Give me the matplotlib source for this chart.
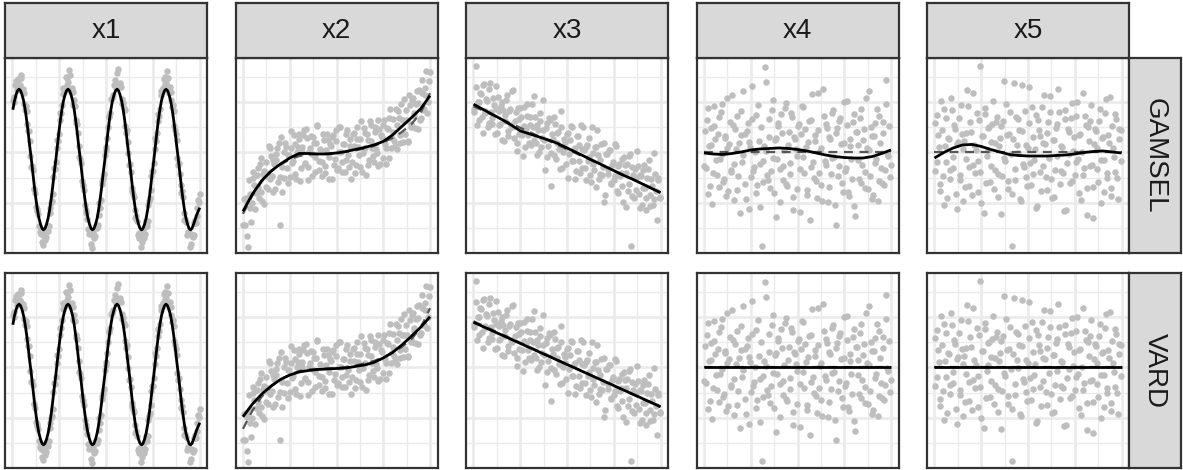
import matplotlib
matplotlib.use("Agg")
import matplotlib.pyplot as plt

# ---------------------------------------------------------------- data
variables = ["x1", "x2", "x3", "x4", "x5"]
methods = ["GAMSEL", "VARD"]

# x1: sine-like component (scatter + fitted curve)
x1_pos = [
    0.002, 0.010, 0.019, 0.027, 0.035, 0.043, 0.051, 0.060, 0.068, 0.076,
    0.084, 0.092, 0.101, 0.109, 0.117, 0.125, 0.133, 0.141, 0.150, 0.158,
    0.166, 0.174, 0.182, 0.191, 0.199, 0.207, 0.215, 0.223, 0.232, 0.240,
    0.248, 0.256, 0.264, 0.272, 0.281, 0.289, 0.297, 0.305, 0.313, 0.322,
    0.330, 0.338, 0.346, 0.354, 0.363, 0.371, 0.379, 0.387, 0.395, 0.403,
    0.412, 0.420, 0.428, 0.436, 0.444, 0.453, 0.461, 0.469, 0.477, 0.485,
    0.494, 0.502, 0.510, 0.518, 0.526, 0.534, 0.543, 0.551, 0.559, 0.567,
    0.575, 0.584, 0.592, 0.600, 0.608, 0.616, 0.625, 0.633, 0.641, 0.649,
    0.657, 0.665, 0.674, 0.682, 0.690, 0.698, 0.706, 0.715, 0.723, 0.731,
    0.739, 0.747, 0.756, 0.764, 0.772, 0.780, 0.788, 0.796, 0.805, 0.813,
    0.821, 0.829, 0.837, 0.846, 0.854, 0.862, 0.870, 0.878, 0.887, 0.895,
    0.903, 0.911, 0.919, 0.927, 0.936, 0.944, 0.952, 0.960, 0.968, 0.977,
    0.985, 0.993, 1.001]
x1_fit = [
    0.85, 1.02, 1.15, 1.23, 1.26, 1.23, 1.15, 1.02, 0.85, 0.64,
    0.40, 0.13, -0.14, -0.41, -0.68, -0.92, -1.13, -1.30, -1.43, -1.51,
    -1.54, -1.51, -1.43, -1.30, -1.13, -0.92, -0.68, -0.41, -0.14, 0.13,
    0.40, 0.64, 0.85, 1.02, 1.15, 1.23, 1.26, 1.23, 1.15, 1.02,
    0.85, 0.64, 0.40, 0.13, -0.14, -0.41, -0.68, -0.92, -1.13, -1.30,
    -1.43, -1.51, -1.54, -1.51, -1.43, -1.30, -1.13, -0.92, -0.68, -0.41,
    -0.14, 0.13, 0.40, 0.64, 0.85, 1.02, 1.15, 1.23, 1.26, 1.23,
    1.15, 1.02, 0.85, 0.64, 0.40, 0.13, -0.14, -0.41, -0.68, -0.92,
    -1.13, -1.30, -1.43, -1.51, -1.54, -1.51, -1.43, -1.30, -1.13, -0.92,
    -0.68, -0.41, -0.14, 0.13, 0.40, 0.64, 0.85, 1.02, 1.15, 1.23,
    1.26, 1.23, 1.15, 1.02, 0.85, 0.64, 0.40, 0.13, -0.14, -0.41,
    -0.68, -0.92, -1.13, -1.30, -1.43, -1.51, -1.54, -1.51, -1.43, -1.33,
    -1.24, -1.17, -1.10]
x1_pts_a = [
    1.05, 1.11, 1.43, 1.30, 1.46, 1.55, 1.24, 1.18, 0.85, 0.82,
    0.43, 0.23, -0.28, -0.34, -0.73, -1.09, -1.12, -1.46, -1.52, -1.79,
    -1.67, -1.74, -1.49, -1.57, -1.20, -1.01, -0.83, -0.31, -0.18, 0.25,
    0.36, 0.78, 0.95, 1.28, 1.25, 1.49, 1.40, 1.54, 1.20, 1.20,
    1.04, 0.65, 0.56, 0.12, -0.12, -0.57, -0.66, -1.05, -1.14, -1.53,
    -1.56, -1.82, -1.65, -1.70, -1.46, -1.51, -1.24, -1.11, -0.62, -0.51,
    -0.05, 0.04, 0.51, 0.72, 1.07, 1.08, 1.34, 1.28, 1.58, 1.36,
    1.38, 1.07, 0.99, 0.84, 0.39, 0.21, -0.24, -0.39, -0.77, -0.88,
    -1.30, -1.36, -1.70, -1.66, -1.79, -1.58, -1.63, -1.37, -1.37, -0.96,
    -0.75, -0.36, -0.20, 0.29, 0.38, 0.76, 0.87, 1.22, 1.29, 1.51,
    1.38, 1.48, 1.18, 1.20, 0.90, 0.83, 0.44, 0.24, -0.25, -0.42,
    -0.80, -0.89, -1.34, -1.39, -1.62, -1.60, -1.83, -1.64, -1.65, -1.34,
    -1.27, -0.95, -0.83]
x1_pos_b = [
    0.006, 0.014, 0.023, 0.031, 0.039, 0.047, 0.055, 0.064, 0.072, 0.080,
    0.088, 0.096, 0.105, 0.113, 0.121, 0.129, 0.137, 0.145, 0.154, 0.162,
    0.170, 0.178, 0.186, 0.195, 0.203, 0.211, 0.219, 0.227, 0.236, 0.244,
    0.252, 0.260, 0.268, 0.276, 0.285, 0.293, 0.301, 0.309, 0.317, 0.326,
    0.334, 0.342, 0.350, 0.358, 0.367, 0.375, 0.383, 0.391, 0.399, 0.407,
    0.416, 0.424, 0.432, 0.440, 0.448, 0.457, 0.465, 0.473, 0.481, 0.489,
    0.498, 0.506, 0.514, 0.522, 0.530, 0.538, 0.547, 0.555, 0.563, 0.571,
    0.579, 0.588, 0.596, 0.604, 0.612, 0.620, 0.629, 0.637, 0.645, 0.653,
    0.661, 0.669, 0.678, 0.686, 0.694, 0.702, 0.710, 0.719, 0.727, 0.735,
    0.743, 0.751, 0.760, 0.768, 0.776, 0.784, 0.792, 0.800, 0.809, 0.817,
    0.825, 0.833, 0.841, 0.850, 0.858, 0.866, 0.874, 0.882, 0.891, 0.899,
    0.907, 0.915, 0.923, 0.931, 0.940, 0.948, 0.956, 0.964, 0.972, 0.981,
    0.989, 0.997]
x1_pts_b = [
    1.01, 1.34, 1.24, 1.47, 1.34, 1.49, 1.26, 0.97, 0.92, 0.56,
    0.43, -0.07, -0.26, -0.73, -0.80, -1.16, -1.23, -1.59, -1.63, -1.85,
    -1.61, -1.69, -1.46, -1.46, -1.10, -0.96, -0.48, -0.32, 0.09, 0.22,
    0.64, 0.79, 1.17, 1.21, 1.50, 1.35, 1.64, 1.27, 1.29, 0.95,
    0.93, 0.58, 0.38, -0.09, -0.21, -0.64, -0.75, -1.21, -1.33, -1.62,
    -1.57, -1.90, -1.59, -1.67, -1.47, -1.44, -1.01, -0.94, -0.57, -0.42,
    0.10, 0.28, 0.71, 0.78, 1.09, 1.14, 1.45, 1.37, 1.67, 1.34,
    1.30, 0.96, 0.89, 0.52, 0.44, -0.01, -0.23, -0.70, -0.83, -1.14,
    -1.26, -1.64, -1.60, -1.88, -1.60, -1.70, -1.49, -1.46, -1.05, -0.90,
    -0.47, -0.37, 0.07, 0.23, 0.62, 0.73, 1.15, 1.20, 1.47, 1.36,
    1.62, 1.26, 1.31, 1.04, 0.95, 0.52, 0.36, -0.10, -0.21, -0.65,
    -0.77, -1.20, -1.33, -1.65, -1.58, -1.89, -1.62, -1.68, -1.40, -1.40,
    -1.10, -0.98]

# x2..x5 share two sets of observation positions
obs_a = [
    0.004, 0.011, 0.019, 0.030, 0.036, 0.043, 0.055, 0.061, 0.068, 0.079,
    0.085, 0.094, 0.101, 0.110, 0.118, 0.125, 0.137, 0.142, 0.150, 0.161,
    0.167, 0.175, 0.186, 0.192, 0.200, 0.211, 0.218, 0.226, 0.233, 0.245,
    0.251, 0.259, 0.268, 0.276, 0.284, 0.293, 0.300, 0.309, 0.318, 0.325,
    0.334, 0.341, 0.350, 0.358, 0.367, 0.374, 0.383, 0.392, 0.398, 0.409,
    0.416, 0.424, 0.433, 0.440, 0.449, 0.458, 0.466, 0.474, 0.483, 0.490,
    0.499, 0.508, 0.515, 0.525, 0.532, 0.541, 0.549, 0.557, 0.566, 0.574,
    0.582, 0.591, 0.599, 0.607, 0.616, 0.624, 0.633, 0.641, 0.650, 0.657,
    0.666, 0.675, 0.683, 0.691, 0.700, 0.708, 0.717, 0.724, 0.733, 0.742,
    0.750, 0.758, 0.767, 0.775, 0.783, 0.792, 0.800, 0.808, 0.817, 0.825,
    0.834, 0.842, 0.850, 0.859, 0.867, 0.875, 0.884, 0.892, 0.900, 0.909,
    0.917, 0.925, 0.934, 0.942, 0.950, 0.959, 0.967, 0.975, 0.984, 0.995]
obs_b = [
    0.002, 0.015, 0.024, 0.027, 0.040, 0.049, 0.051, 0.064, 0.073, 0.082,
    0.090, 0.097, 0.106, 0.114, 0.121, 0.131, 0.134, 0.146, 0.155, 0.158,
    0.171, 0.179, 0.183, 0.196, 0.205, 0.208, 0.221, 0.230, 0.239, 0.241,
    0.255, 0.263, 0.272, 0.280, 0.288, 0.297, 0.304, 0.313, 0.321, 0.330,
    0.337, 0.346, 0.354, 0.362, 0.371, 0.379, 0.387, 0.395, 0.404, 0.412,
    0.420, 0.428, 0.437, 0.445, 0.453, 0.462, 0.470, 0.478, 0.487, 0.495,
    0.503, 0.512, 0.520, 0.529, 0.537, 0.545, 0.553, 0.562, 0.570, 0.578,
    0.587, 0.595, 0.603, 0.612, 0.620, 0.628, 0.637, 0.645, 0.653, 0.662,
    0.670, 0.679, 0.687, 0.696, 0.704, 0.712, 0.721, 0.729, 0.737, 0.746,
    0.754, 0.762, 0.771, 0.779, 0.788, 0.796, 0.804, 0.813, 0.821, 0.829,
    0.838, 0.846, 0.854, 0.863, 0.871, 0.880, 0.888, 0.896, 0.904, 0.913,
    0.921, 0.930, 0.938, 0.946, 0.955, 0.963, 0.971, 0.980, 0.988, 0.998]

x2_pts_a = [
    -0.93, -1.44, -0.99, -0.55, -1.11, -1.39, -0.51, -0.65, -0.80, -0.30,
    -0.90, -0.11, -0.96, -0.36, -0.47, -0.69, 0.13, -0.53, -0.06, -0.79,
    -0.23, -0.04, -0.58, 0.19, -1.45, -0.78, 0.00, 0.18, -0.31, -0.05,
    -0.48, 0.42, -0.17, 0.17, -0.52, 0.11, 0.37, -0.30, 0.01, 0.44,
    -0.22, 0.28, -0.55, 0.09, -0.03, 0.31, -0.38, 0.19, 0.54, -0.17,
    0.03, -0.46, 0.24, -0.27, 0.37, -0.09, 0.16, -0.52, 0.34, -0.13,
    0.23, -0.30, 0.50, 0.01, -0.38, 0.16, -0.15, 0.45, -0.29, 0.12,
    -0.18, 0.39, -0.40, 0.27, 0.11, -0.28, 0.62, -0.01, 0.38, -0.44,
    0.25, -0.15, 0.54, 0.09, -0.18, 0.41, -0.02, 0.65, -0.22, 0.31,
    0.54, 0.16, -0.22, 0.46, 0.69, 0.08, 0.41, 0.23, 0.86, 0.06,
    0.69, 0.19, 0.64, 1.07, 0.37, 0.64, 0.20, 0.95, 0.57, 1.08,
    0.73, 0.97, 0.46, 1.25, 0.69, 1.19, 0.87, 1.14, 0.79, 1.43]
x2_pts_b = [
    -1.44, -0.90, -1.66, -1.88, -0.82, -1.00, -0.38, -1.12, -0.45, -0.69,
    -0.22, -0.78, -0.43, -1.03, -0.18, -0.40, -0.72, 0.08, -0.46, -0.15,
    -0.72, -0.14, 0.08, -0.48, 0.31, -0.28, -0.51, 0.10, -0.05, -0.61,
    0.08, -0.21, 0.35, -0.42, 0.01, 0.26, -0.57, 0.11, 0.35, -0.21,
    0.46, -0.29, 0.00, 0.32, -0.46, 0.18, -0.09, 0.53, -0.34, 0.07,
    -0.18, 0.37, -0.41, 0.04, 0.24, -0.52, 0.12, 0.30, -0.25, 0.44,
    -0.35, 0.00, 0.51, -0.19, 0.17, -0.39, 0.37, -0.05, 0.27, -0.53,
    0.36, 0.12, -0.24, 0.50, -0.05, 0.27, -0.38, 0.48, 0.08, 0.37,
    -0.24, 0.62, 0.23, -0.07, 0.50, 0.06, -0.27, 0.47, 0.35, -0.11,
    0.64, 0.08, 0.49, -0.10, 0.86, 0.29, 0.66, 0.13, 0.54, 0.82,
    0.34, 0.97, 0.20, 0.64, 0.84, 0.23, 1.15, 0.50, 1.05, 0.79,
    0.48, 1.22, 0.99, 0.65, 1.44, 0.84, 1.29, 1.63, 1.01, 1.60]

x3_pts_a = [
    0.86, 1.30, 0.55, 1.01, 1.19, 0.71, 1.36, 0.82, 1.07, 0.51,
    1.26, 0.81, 0.56, 0.94, 1.33, 0.39, 0.83, 0.57, 1.01, 0.23,
    0.74, 1.05, 0.43, 0.83, 0.54, 1.24, 0.29, 0.81, 0.02, 0.66,
    0.88, 0.34, 0.53, 0.10, 0.96, 0.35, 0.71, 0.14, 0.50, 1.13,
    0.18, 0.55, 0.01, 0.79, 0.29, 0.45, -0.34, 0.59, 0.12, 0.65,
    -0.02, 0.27, 0.71, -0.12, 0.39, 0.07, 0.51, -0.30, 0.27, 0.09,
    0.37, -0.50, 0.25, 0.51, -0.16, 0.08, -0.37, 0.32, -0.17, 0.55,
    -0.31, 0.05, -0.54, 0.14, -0.09, -0.45, 0.50, -0.23, 0.11, -0.68,
    -0.05, -0.43, 0.17, -0.28, -0.98, -0.03, -0.43, 0.04, -0.62, -0.24,
    -0.54, 0.16, -0.77, -0.27, -0.47, -0.12, -0.98, -0.24, -0.40, -0.76,
    -0.07, -1.86, -0.29, -0.90, -0.51, 0.03, -0.82, -0.45, -1.05, -0.35,
    -0.71, -1.15, -0.32, -0.85, -0.52, -1.05, -0.02, -0.77, -0.51, -0.91]
x3_pts_b = [
    0.81, 1.72, 1.01, 0.64, 1.16, 0.38, 1.34, 0.79, 1.02, 0.58,
    1.39, 0.68, 1.09, 0.37, 0.86, 1.10, 0.54, 0.93, 0.24, 0.84,
    0.63, 1.14, 0.33, 0.86, 1.22, 0.50, 0.63, 0.19, 0.89, 0.37,
    0.71, -0.07, 0.90, 0.46, 0.72, 0.18, 0.55, 0.96, 0.25, 0.71,
    -0.05, 0.44, 0.63, 0.11, 1.04, 0.24, 0.48, -0.08, 0.68, -0.67,
    0.37, -0.05, 0.56, 0.19, 0.40, -0.32, 0.83, 0.00, 0.20, -0.22,
    0.38, -0.03, 0.52, -0.16, 0.07, -0.53, 0.33, 0.15, -0.41, 0.06,
    0.51, -0.31, 0.11, -0.16, 0.28, -0.58, -0.02, -0.34, 0.11, 0.44,
    -0.53, -0.15, -0.44, 0.18, -0.84, -0.04, -0.32, 0.04, -0.61, -0.19,
    -0.46, 0.13, -0.80, -0.22, -0.41, -0.66, -0.09, -1.09, -0.22, -0.62,
    -0.04, -0.87, -0.45, -0.33, -0.74, -0.27, -1.10, -0.47, -0.71, -0.24,
    -0.91, -0.50, -0.14, -1.06, -0.67, -0.92, -0.42, -1.35, -0.55, -0.89]

x4_pts_a = [
    0.42, -0.31, 0.88, -0.67, 0.15, -1.02, 0.53, 0.27, -0.45, 0.71,
    -0.12, 0.96, -0.58, 0.33, -0.86, 0.08, 0.61, -0.39, 1.14, -0.22,
    0.47, -0.74, 0.19, -1.21, 0.82, -0.05, 0.36, -0.93, 0.58, 0.11,
    -0.49, 1.32, -0.28, 0.74, -0.64, 0.23, -1.08, -1.87, -0.17, 1.71,
    0.02, -0.55, 0.67, -0.36, 1.05, -0.81, 0.29, -0.13, 0.52, -0.98,
    0.38, -0.26, 0.89, -0.62, 0.14, -0.43, 0.79, -1.15, 0.31, 0.06,
    -0.72, 0.57, -0.33, 0.93, -0.09, 0.46, -0.84, 0.21, -1.34, 0.65,
    -0.18, 0.34, -0.57, 1.19, -0.41, 0.09, -0.96, 0.73, -0.24, 0.48,
    -0.68, 0.26, -0.11, 0.84, -1.05, 0.39, -0.47, 0.62, 0.17, -0.79,
    1.01, -0.30, 0.55, -0.87, 0.12, -0.52, 0.76, -1.26, 0.40, -0.15,
    0.69, -0.61, 0.25, -0.38, 1.09, -0.73, 0.04, 0.51, -0.92, 0.32,
    -0.20, 0.87, -0.56, 0.18, -0.61, 0.60, -0.35, 0.97, -0.07, -0.48]
x4_pts_b = [
    -0.26, 0.64, -0.83, 0.12, 0.49, -0.41, 0.92, -0.14, 0.37, -0.69,
    0.81, -0.03, -0.52, 0.28, 1.08, -0.77, 0.16, -0.34, 0.55, -0.95,
    0.07, 0.72, -0.47, 0.35, -0.19, 1.23, -0.63, 0.43, -1.12, 0.20,
    0.66, -0.37, 0.01, -0.80, 0.94, -0.23, 0.50, -0.59, 0.13, 1.41,
    -0.44, 0.31, -0.71, 0.85, -0.10, 0.24, -1.29, 0.59, -0.32, 0.77,
    -0.54, 0.05, 0.98, -0.66, 0.40, -0.21, 0.70, -0.89, 0.27, -0.06,
    0.53, -1.18, 0.36, 0.90, -0.40, 0.10, -0.75, 0.63, -0.29, 1.16,
    -0.51, 0.22, -0.91, 0.45, 0.03, -0.65, 1.27, -0.16, 0.56, -0.99,
    0.30, -0.42, 0.79, -0.08, -1.44, 0.48, -0.27, 0.68, -0.60, 0.19,
    -0.37, 1.03, -0.78, 0.26, -0.12, 0.61, -1.07, 0.41, 0.14, -0.53,
    0.86, -0.25, 0.47, -0.70, 0.09, 1.22, -0.46, 0.32, -0.85, 0.58,
    -0.13, -0.97, 0.73, -0.31, 0.38, -0.64, 1.45, -0.02, 0.52, -0.24]

x5_pts_a = [
    0.58, -0.19, 0.34, -0.77, 1.02, -0.46, 0.13, 0.69, -0.91, 0.27,
    -0.35, 0.84, -0.08, 0.47, -1.13, 0.21, -0.54, 0.95, 0.06, -0.68,
    0.39, 1.25, -0.29, 0.61, -0.84, 0.15, -0.40, 0.78, -0.17, 1.73,
    -1.01, 0.32, 0.89, -0.61, 0.04, 0.50, -0.26, 0.56, -0.72, 0.19,
    0.71, -0.43, 0.28, -1.22, 0.62, -0.11, 0.97, -0.57, 0.36, -0.03,
    -0.82, 1.38, -0.33, 0.14, 0.66, -0.93, 0.42, -0.22, 0.83, -0.49,
    0.09, 1.30, -0.64, 0.31, -0.15, 0.74, -1.06, 0.45, -0.38, 0.90,
    -0.27, 0.17, -0.75, 0.60, 1.12, -0.52, 0.24, -0.89, 0.49, -0.06,
    0.81, -0.36, 0.11, -1.17, 0.67, -0.20, 0.40, -0.60, 0.99, 0.02,
    -0.45, 0.73, -0.12, 0.35, -0.94, 1.19, -0.31, 0.54, -0.70, 0.22,
    0.63, -0.24, -1.31, 0.46, 0.08, -0.58, 0.87, -0.14, 0.30, -0.79,
    1.07, -0.41, 0.18, -0.87, 0.52, -0.09, 0.76, -0.50, 0.26, 0.44]
x5_pts_b = [
    -0.37, 0.74, 0.10, -0.62, 0.45, -1.05, 0.86, -0.18, 0.29, -0.53,
    1.09, -0.30, 0.55, -0.83, 0.16, 0.68, -0.44, 0.37, -0.96, 0.23,
    -0.12, 0.92, -0.67, 0.41, 1.18, -0.25, 0.05, -0.79, 0.64, -0.39,
    0.33, -1.20, 0.77, -0.07, 0.48, -0.58, 0.20, 1.03, -0.34, 0.60,
    -0.88, 0.12, 0.53, -0.47, 1.42, -0.16, 0.35, -0.73, 0.81, -1.86,
    0.26, -0.55, 0.70, -0.02, 0.44, -0.97, 1.35, -0.28, 0.15, -0.66,
    0.58, -0.21, 0.91, -0.42, 0.07, -1.10, 0.65, 0.32, -0.76, 0.19,
    1.14, -0.48, 0.39, -0.11, 0.80, -0.90, 0.25, -0.35, 0.57, 1.26,
    -0.63, 0.13, -0.40, 0.85, -1.14, 0.47, -0.04, 0.69, -0.56, 0.30,
    -0.19, 1.00, -0.81, 0.36, 0.01, -0.45, 0.72, -1.25, 0.51, -0.26,
    0.94, -0.69, 0.17, 0.43, -0.33, 0.62, -1.00, 0.28, -0.15, 0.79,
    -0.50, 0.34, 1.10, -0.71, 0.09, -0.38, 0.66, -0.92, 0.46, -0.17]

# fitted / true curves for x2..x5 on a common grid
grid = [0.00, 0.05, 0.10, 0.15, 0.20, 0.25, 0.30, 0.35, 0.40, 0.45, 0.50,
        0.55, 0.60, 0.65, 0.70, 0.75, 0.80, 0.85, 0.90, 0.95, 1.00]
x2_true = [-1.22, -0.86, -0.58, -0.38, -0.24, -0.14, -0.07, -0.04, -0.03, -0.02, -0.01,
           0.01, 0.04, 0.08, 0.13, 0.20, 0.29, 0.41, 0.56, 0.79, 1.18]
x2_gamsel = [-1.17, -0.83, -0.56, -0.37, -0.23, -0.11, -0.02, -0.02, -0.03, -0.03, -0.01,
             0.02, 0.06, 0.10, 0.15, 0.22, 0.35, 0.52, 0.69, 0.87, 1.13]
x2_vard = [-0.98, -0.73, -0.53, -0.37, -0.24, -0.15, -0.09, -0.06, -0.04, -0.03, -0.02,
           -0.01, 0.02, 0.05, 0.10, 0.19, 0.30, 0.45, 0.62, 0.80, 1.01]
x3_gamsel = [0.96, 0.86, 0.76, 0.66, 0.55, 0.43, 0.37, 0.31, 0.25, 0.18, 0.09,
             0.00, -0.09, -0.18, -0.27, -0.36, -0.45, -0.53, -0.62, -0.71, -0.80]
x4_gamsel = [-0.01, -0.03, -0.04, -0.02, 0.01, 0.05, 0.07, 0.08, 0.09, 0.08, 0.06,
             0.03, -0.01, -0.05, -0.08, -0.10, -0.11, -0.11, -0.08, -0.02, 0.05]
x5_gamsel = [-0.11, 0.00, 0.09, 0.15, 0.16, 0.12, 0.06, 0.01, -0.04, -0.06, -0.07,
             -0.07, -0.07, -0.06, -0.05, -0.03, 0.00, 0.02, 0.03, 0.01, -0.01]
ends = [0.0, 1.0]
x3_true = [0.92, -0.79]
x3_vard = [0.90, -0.78]
flat = [0.0, 0.0]

# ---------------------------------------------------------------- style
W, H = 1183, 470
PT_COL = "#BEBEBE"
GRID_COL = "#EBEBEB"
EDGE_COL = "#333333"
STRIP_COL = "#D9D9D9"
FONT = ["Liberation Sans", "DejaVu Sans"]

panel_left = [5, 235.5, 466, 696.5, 927]
panel_w = 202
row_top = [58, 273]
row_h = 195

fig = plt.figure(figsize=(W / 100, H / 100), dpi=100)


def px_axes(x0, y0, w, h):
    return fig.add_axes([x0 / W, 1 - (y0 + h) / H, w / W, h / H])


def frame(ax):
    ax.set_xticks([])
    ax.set_yticks([])
    for sp in ax.spines.values():
        sp.set_color(EDGE_COL)
        sp.set_linewidth(1.6)


panels = {
    "x1": dict(pts=[(x1_pos, x1_pts_a), (x1_pos_b, x1_pts_b)],
               true=None,
               fit={"GAMSEL": (x1_pos, x1_fit), "VARD": (x1_pos, x1_fit)}),
    "x2": dict(pts=[(obs_a, x2_pts_a), (obs_b, x2_pts_b)],
               true=(grid, x2_true),
               fit={"GAMSEL": (grid, x2_gamsel), "VARD": (grid, x2_vard)}),
    "x3": dict(pts=[(obs_a, x3_pts_a), (obs_b, x3_pts_b)],
               true=(ends, x3_true),
               fit={"GAMSEL": (grid, x3_gamsel), "VARD": (ends, x3_vard)}),
    "x4": dict(pts=[(obs_a, x4_pts_a), (obs_b, x4_pts_b)],
               true=(ends, flat),
               fit={"GAMSEL": (grid, x4_gamsel), "VARD": (ends, flat)}),
    "x5": dict(pts=[(obs_a, x5_pts_a), (obs_b, x5_pts_b)],
               true=(ends, flat),
               fit={"GAMSEL": (grid, x5_gamsel), "VARD": (ends, flat)}),
}

for r, method in enumerate(methods):
    for c, var in enumerate(variables):
        ax = px_axes(panel_left[c], row_top[r], panel_w, row_h)
        ax.set_xlim(-0.04, 1.04)
        ax.set_ylim(-2.0, 1.88)
        ax.set_xticks([0, 0.25, 0.5, 0.75, 1.0])
        ax.set_xticks([0.125, 0.375, 0.625, 0.875], minor=True)
        ax.set_yticks([-1, 0, 1])
        ax.set_yticks([-1.5, -0.5, 0.5, 1.5], minor=True)
        ax.tick_params(which="both", length=0, labelbottom=False, labelleft=False)
        ax.grid(which="major", color=GRID_COL, lw=1.9)
        ax.grid(which="minor", color=GRID_COL, lw=1.0)
        ax.set_axisbelow(True)
        for sp in ax.spines.values():
            sp.set_color(EDGE_COL)
            sp.set_linewidth(1.6)
            sp.set_zorder(6)

        spec = panels[var]
        for xs, ys in spec["pts"]:
            ax.scatter(xs, ys, s=22, color=PT_COL, linewidths=0, zorder=2)
        if spec["true"] is not None:
            ax.plot(*spec["true"], color="#555555", lw=1.6, ls=(0, (4, 3)), zorder=3)
        ax.plot(*spec["fit"][method], color="black", lw=2.0, zorder=4,
                solid_capstyle="butt")

# column strips
for c, var in enumerate(variables):
    sax = px_axes(panel_left[c], 3, panel_w, 55)
    sax.set_facecolor(STRIP_COL)
    frame(sax)
    sax.text(0.5, 0.5, var, transform=sax.transAxes, ha="center", va="center",
             fontsize=20, color="#1A1A1A", family=FONT)

# row strips
for r, method in enumerate(methods):
    sax = px_axes(1129, row_top[r], 52, row_h)
    sax.set_facecolor(STRIP_COL)
    frame(sax)
    sax.text(0.5, 0.5, method, transform=sax.transAxes, ha="center", va="center",
             rotation=-90, fontsize=20, color="#1A1A1A", family=FONT)

fig.savefig("out.png", dpi=100)
